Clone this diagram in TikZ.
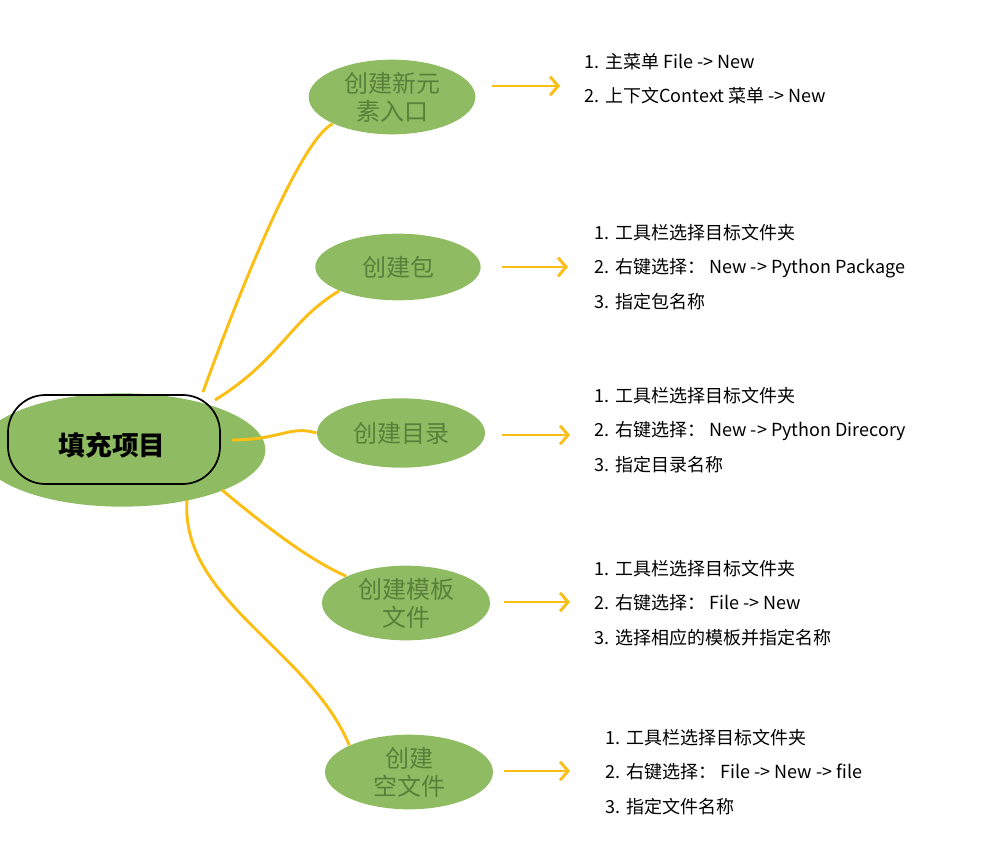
\documentclass[tikz,border=0pt]{standalone}
\usepackage{fontspec}
\setmainfont{Noto Sans CJK SC}
\usetikzlibrary{shapes.geometric,positioning}
\definecolor{leaf}{RGB}{143,188,98}
\definecolor{leaftext}{RGB}{88,128,58}
\definecolor{stem}{RGB}{250,190,20}
\tikzset{every picture/.style={line width=0.75pt}}
\tikzset{
  blob/.style={ellipse,fill=leaf,text=leaftext,font=\fontsize{18pt}{21pt}\selectfont,align=center,inner sep=0pt},
  stemline/.style={draw=stem,line width=2.2pt},
  pointer/.style={draw=stem,line width=2.2pt,-{Straight Barb[length=6pt,width=14pt]}},
  items/.style={anchor=north west,align=left,font=\fontsize{13.5pt}{26pt}\selectfont}
}
\usetikzlibrary{arrows.meta}
\begin{document}
\begin{tikzpicture}[x=0.75pt,y=0.75pt,yscale=-1,xscale=1]
	\useasboundingbox (0,0) rectangle (1003,863);

	%center
	\node[ellipse,fill=leaf,minimum width=215pt,minimum height=85pt,inner sep=0pt] (root) at (122,450) {};
	\draw[rounded corners=28pt,line width=1.3pt] (8,395) rectangle (220,484);
	\node[font=\fontsize{20pt}{24pt}\selectfont\bfseries] at (112,445) {填充项目};

	%branches
	\node[blob,minimum width=125pt,minimum height=56pt] (b1) at (392,97) {创建新元\\素入口};
	\node[blob,minimum width=124pt,minimum height=50pt] (b2) at (398,267) {创建包};
	\node[blob,minimum width=126pt,minimum height=52pt] (b3) at (401,433) {创建目录};
	\node[blob,minimum width=126pt,minimum height=56pt] (b4) at (406,603) {创建模板\\文件};
	\node[blob,minimum width=126pt,minimum height=56pt] (b5) at (409,772) {创建\\空文件};

	%stems
	\draw[stemline] (203,392) .. controls (240,290) and (300,140) .. (b1.south west);
	\draw[stemline] (215,400) .. controls (280,360) and (290,320) .. (b2.south west);
	\draw[stemline] (232,440) .. controls (280,440) and (290,425) .. (b3.west);
	\draw[stemline] (222,490) .. controls (270,530) and (310,560) .. (b4.north west);
	\draw[stemline] (187,500) .. controls (180,600) and (310,650) .. (b5.north west);

	%lists
	\node[items] (l1) at (580,48) {1. 主菜单 File -> New\\2. 上下文Context 菜单 -> New};
	\node[items] (l2) at (590,219) {1. 工具栏选择目标文件夹\\2. 右键选择： New -> Python Package\\3. 指定包名称};
	\node[items] (l3) at (590,382) {1. 工具栏选择目标文件夹\\2. 右键选择： New -> Python Direcory\\3. 指定目录名称};
	\node[items] (l4) at (590,555) {1. 工具栏选择目标文件夹\\2. 右键选择： File -> New\\3. 选择相应的模板并指定名称};
	\node[items] (l5) at (601,724) {1. 工具栏选择目标文件夹\\2. 右键选择： File -> New -> file\\3. 指定文件名称};

	%pointers
	\coordinate (p1) at (560,86);
	\coordinate (p2) at (568,267);
	\coordinate (p3) at (570,435);
	\coordinate (p4) at (570,602);
	\coordinate (p5) at (570,771);
	\draw[pointer] (492,86) -- (p1);
	\draw[pointer] (502,267) -- (p2);
	\draw[pointer] (502,435) -- (p3);
	\draw[pointer] (504,602) -- (p4);
	\draw[pointer] (504,771) -- (p5);
\end{tikzpicture}
\end{document}
